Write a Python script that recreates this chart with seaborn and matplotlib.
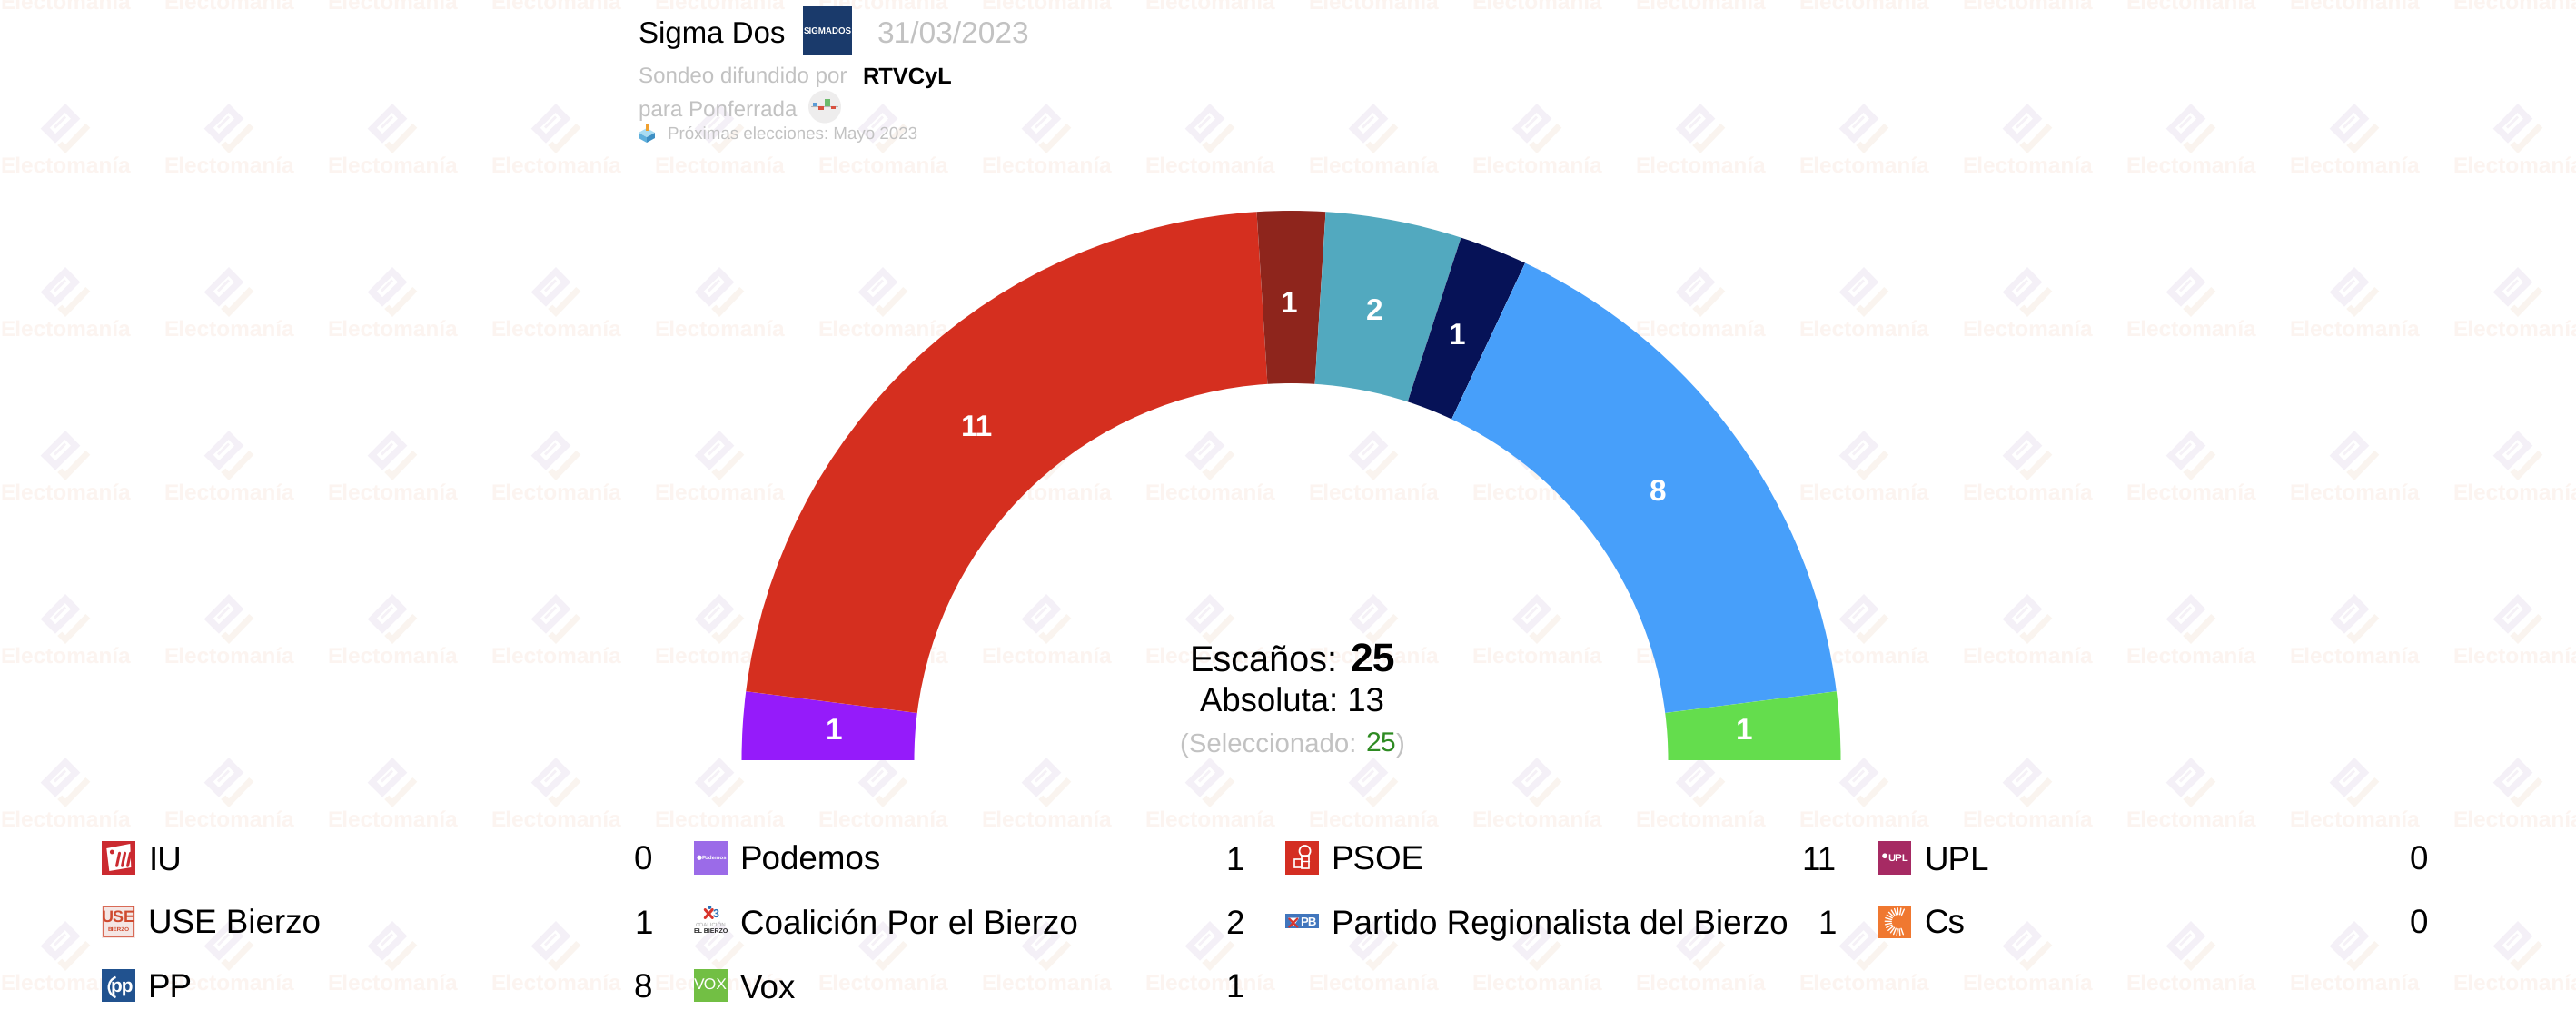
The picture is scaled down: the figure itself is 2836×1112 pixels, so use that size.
import numpy as np
import matplotlib
matplotlib.use('Agg')
import matplotlib.pyplot as plt
from matplotlib.patches import Polygon, Rectangle, Circle, Wedge
import seaborn as sns

# semicircle, left to right
arc_parties = ['Podemos', 'PSOE', 'USE Bierzo', 'Coalición Por el Bierzo',
               'Partido Regionalista del Bierzo', 'PP', 'Vox']
arc_seats = [1, 11, 1, 2, 1, 8, 1]
arc_colors = ['#951bfa', '#d52f1f', '#8e251c', '#52a9bf', '#061257', '#479ffa', '#64dd4d']

# legend, one list per column
legend_names = [['IU', 'USE Bierzo', 'PP'],
                ['Podemos', 'Coalición Por el Bierzo', 'Vox'],
                ['PSOE', 'Partido Regionalista del Bierzo'],
                ['UPL', 'Cs']]
legend_seats = [[0, 1, 8], [1, 2, 1], [11, 1], [0, 0]]

W, H = 2836, 1112
GREY = '#c2c2c2'

sns.set_theme(style='white')
plt.rcParams['font.family'] = ['Liberation Sans', 'DejaVu Sans']
plt.rcParams['text.hinting'] = 'no_hinting'

fig = plt.figure(figsize=(W / 100, H / 100), dpi=100, facecolor='white')
ax = fig.add_axes([0, 0, 1, 1])


def txt(x, y, s, size, color='black', weight='normal', ha='left', z=5):
    ax.text(x, y, s, fontsize=size, color=color, fontweight=weight, ha=ha, va='baseline', zorder=z)


# watermark tiles
ring = [(0, -27), (16.3, -10.3), (-11, 16.7), (-27.3, 0.7)]
hole = [(-0.3, -17), (6, -10.3), (-11, 6.3), (-17.3, -0.3)]
slit = [(-1, -13.5), (1, -11.5), (-11, 0.5), (-13, -1.5)]
check = [(27.3, -0.3), (22.3, -5), (0, 18.3), (-3.7, 14.7), (-8.7, 19), (0, 28)]
for cx in range(72, W + 100, 180):
    for cy in range(-39, H + 100, 180):
        ax.add_patch(Polygon(np.array(ring) + (cx, cy), fc='#f4f0f7', ec='none', zorder=1))
        ax.add_patch(Polygon(np.array(hole) + (cx, cy), fc='white', ec='none', zorder=1))
        ax.add_patch(Polygon(np.array(slit) + (cx, cy), fc='#f5f1f7', ec='none', zorder=1))
        ax.add_patch(Polygon(np.array(check) + (cx, cy), fc='#faf4ef', ec='none', zorder=1))
        txt(cx, cy + 49, 'Electomanía', 17.6, color='#fcf4f0', weight='bold', ha='center', z=1)

# seats arc: hidden half takes up the bottom of the pie
CX, CY, R = 1421.5, 837, 605
wedges, _ = ax.pie(arc_seats + [sum(arc_seats)],
                   colors=sns.color_palette(arc_colors) + ['white'],
                   center=(CX, CY), radius=R, startangle=180, counterclock=True,
                   wedgeprops=dict(width=190, edgecolor='none', zorder=3))
wedges[-1].set_visible(False)
for w, n in zip(wedges, arc_seats):
    a = np.deg2rad((w.theta1 + w.theta2) / 2)
    ax.text(CX - 2 + 502 * np.cos(a), CY + 502 * np.sin(a), str(n), fontsize=24, color='white',
            fontweight='bold', ha='center', va='center', zorder=5)

ax.set_xlim(0, W)
ax.set_ylim(H, 0)
ax.set_aspect('auto')
ax.axis('off')

# header
txt(703, 47.5, 'Sigma Dos', 23.8)
ax.add_patch(Rectangle((884, 7), 54, 54, fc='#1a3a6b', ec='none', zorder=4))
ax.text(911, 35, 'SIGMADOS', fontsize=7, color='white', fontweight='bold', ha='center', va='center', zorder=5)
txt(966, 47.5, '31/03/2023', 24.1, color=GREY)
txt(703, 91.5, 'Sondeo difundido por', 17.4, color=GREY)
txt(949, 91.5, 'RTVCyL', 18.3, weight='bold')
txt(703, 128, 'para Ponferrada', 17.4, color=GREY)
ax.add_patch(Circle((908, 117.5), 18, fc='#eeeded', ec='none', zorder=4))
ax.plot([893, 922], [117, 117], color='#b5b5b5', lw=0.8, zorder=5)
for x0, y0, bw, bh, c in [(894.6, 113, 5.5, 4, '#5b9bd5'), (901, 117, 6, 4, '#d9503f'),
                          (908, 109, 5.6, 8, '#6cbb6c'), (915, 117, 5.2, 2.5, '#d9503f')]:
    ax.add_patch(Rectangle((x0, y0), bw, bh, fc=c, ec='none', zorder=6))
# ballot box
ax.add_patch(Rectangle((710.5, 137), 3.5, 7, fc='#f0a030', ec='none', zorder=6))
ax.add_patch(Polygon([(703, 146), (712, 141), (721, 146), (712, 151)], fc='#a8dcf2', ec='none', zorder=5))
ax.add_patch(Polygon([(703, 146), (712, 151), (712, 157), (703, 152)], fc='#5fb0dc', ec='none', zorder=5))
ax.add_patch(Polygon([(721, 146), (712, 151), (712, 157), (721, 152)], fc='#3d8fc4', ec='none', zorder=5))
txt(735, 153, 'Próximas elecciones: Mayo 2023', 13.5, color=GREY)

# centre counters
txt(1310, 740, 'Escaños:', 28.5)
txt(1486, 740, str(sum(arc_seats)), 32, weight='bold')
txt(1422, 783.5, 'Absoluta: 13', 26.3, ha='center')
txt(1299, 827.5, '(Seleccionado: ', 21.2, color=GREY)
txt(1503, 827.5, str(sum(arc_seats)), 21.8, color='#2e8b22')
txt(1537, 827.5, ')', 21.2, color=GREY)


# party icons, x and y are the top left corner of a 36.5 px square
def square(x, y, color, h=36.5):
    ax.add_patch(Rectangle((x, y), 36.5, h, fc=color, ec='none', zorder=4))


def icon_text(x, y, s, size, color='white', weight='bold'):
    ax.text(x, y, s, fontsize=size, color=color, fontweight=weight, ha='center', va='center', zorder=6)


def draw_icon(name, x, y):
    mx, my = x + 18.25, y + 18.25
    if name == 'IU':
        square(x, y, '#cb2a30')
        ax.add_patch(Polygon([(x + 5, y + 8), (x + 31, y + 3), (x + 32, y + 29), (x + 8, y + 33)],
                             fc='white', ec='none', zorder=5))
        for dx in (9, 15, 21):
            ax.plot([mx - 8 + dx, mx - 11 + dx], [my - 5, my + 9], color='#cb2a30', lw=2.2, zorder=6)
        ax.add_patch(Circle((x + 11, y + 12), 2.4, fc='#cb2a30', ec='none', zorder=6))
    elif name == 'USE Bierzo':
        square(x, y, '#f4e6e4')
        ax.add_patch(Rectangle((x + 1.5, y + 1.5), 33.5, 32.5, fc='none', ec='#d4523a', lw=1.2, zorder=5))
        icon_text(mx, y + 14, 'USE', 13, color='#cf4a2f')
        icon_text(mx, y + 26.5, 'BIERZO', 4.6, color='#cf4a2f')
    elif name == 'PP':
        square(x, y, '#21528f')
        icon_text(mx + 4, my + 1, 'pp', 15)
        ax.add_patch(Wedge((mx + 1, my + 2), 13, 110, 250, width=2.4, fc='white', ec='none', zorder=6))
    elif name == 'Podemos':
        square(x, y, '#9b6be8')
        ax.add_patch(Circle((x + 6, my), 2.6, fc='white', ec='none', zorder=6))
        icon_text(mx + 4, my, 'Podemos', 4.4)
    elif name == 'Coalición Por el Bierzo':
        ax.plot([mx - 6, mx + 2], [y + 5, y + 14], color='#d8342c', lw=2.2, zorder=6)
        ax.plot([mx - 6, mx + 2], [y + 14, y + 5], color='#d8342c', lw=2.2, zorder=6)
        ax.add_patch(Circle((mx - 1, y + 2.5), 2, fc='#2a70b8', ec='none', zorder=6))
        icon_text(mx + 6, y + 10, '3', 9, color='#2a70b8')
        icon_text(mx, y + 22, 'COALICIÓN', 4.4, color='#a9a9a9', weight='normal')
        icon_text(mx, y + 28.5, 'EL BIERZO', 5, color='#222222')
    elif name == 'Vox':
        square(x, y, '#72bf44')
        icon_text(mx, my, 'VOX', 12.6, weight='normal')
    elif name == 'PSOE':
        square(x, y, '#d42e22')
        ax.add_patch(Circle((mx + 3, y + 11), 6, fc='none', ec='white', lw=1.3, zorder=6))
        ax.add_patch(Rectangle((mx - 1, y + 16), 8, 14, fc='none', ec='white', lw=1.2, zorder=6))
        ax.add_patch(Rectangle((mx - 9, y + 20), 8, 9, fc='none', ec='white', lw=1.2, zorder=6))
        ax.plot([mx - 1, mx + 7], [y + 22, y + 22], color='white', lw=1, zorder=6)
    elif name == 'Partido Regionalista del Bierzo':
        ax.add_patch(Rectangle((x, y + 9.7), 36.5, 15.6, fc='#4176bd', ec='none', zorder=4))
        ax.add_patch(Polygon([(x + 3, y + 14), (x + 15, y + 14), (x + 9, y + 23)], fc='white', ec='none', zorder=5))
        ax.plot([x + 4, x + 13], [y + 15, y + 24], color='#d8342c', lw=1.6, zorder=6)
        ax.plot([x + 13, x + 4], [y + 15, y + 24], color='#d8342c', lw=1.6, zorder=6)
        icon_text(x + 25, my + 1, 'PB', 9.5)
    elif name == 'UPL':
        square(x, y, '#a62a63')
        icon_text(mx + 4, my + 1, 'UPL', 8.2)
        ax.add_patch(Circle((x + 8, my - 2), 2.8, fc='white', ec='none', zorder=6))
    elif name == 'Cs':
        square(x, y, '#f07830')
        for a in np.deg2rad(np.arange(70, 295, 14)):
            ax.plot([mx + 5 + 8 * np.cos(a), mx + 5 + 15 * np.cos(a)],
                    [my + 8 * np.sin(a), my + 15 * np.sin(a)], color='white', lw=1, zorder=6)


col_x = [112.3, 764, 1415.3, 2067]
row_y = [926, 996.5, 1066.7]
for names, seats, x in zip(legend_names, legend_seats, col_x):
    for name, n, y in zip(names, seats, row_y):
        draw_icon(name, x, y)
        txt(x + 51, y + 31.5, name, 26.5)
        txt(x + 606, y + 31.5, str(n), 26.5, ha='right')

fig.savefig('out.png', dpi=100, facecolor='white')
